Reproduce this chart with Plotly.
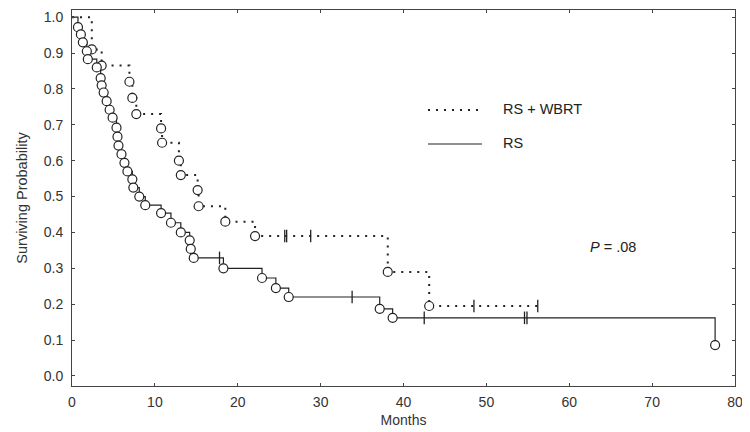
import plotly.graph_objects as go

# ---- data ----
rs_event_months = [0.72, 1.07, 1.31, 1.79, 1.91, 2.99, 3.46, 3.58, 3.82, 4.18, 4.54, 4.90,
                   5.37, 5.49, 5.61, 5.97, 6.33, 6.69, 7.28, 7.40, 8.12, 8.84, 10.75, 11.94,
                   13.13, 14.20, 14.33, 14.69, 18.27, 22.93, 24.60, 26.15, 37.13, 38.69, 77.6]
rs_event_surv = [0.972, 0.952, 0.93, 0.905, 0.883, 0.86, 0.83, 0.81, 0.79, 0.766, 0.742, 0.72,
                 0.692, 0.667, 0.642, 0.618, 0.594, 0.57, 0.548, 0.525, 0.50, 0.476, 0.454, 0.427,
                 0.40, 0.378, 0.354, 0.329, 0.30, 0.273, 0.245, 0.22, 0.187, 0.162, 0.086]
rs_censor_months = [17.8, 33.8, 42.5, 54.6, 54.9]
rs_censor_surv = [0.329, 0.22, 0.162, 0.162, 0.162]

wb_event_months = [2.39, 3.58, 6.93, 7.28, 7.76, 10.75, 10.87, 12.9, 13.13, 15.16, 15.28,
                   18.5, 22.09, 38.1, 43.1]
wb_event_surv = [0.91, 0.865, 0.82, 0.775, 0.73, 0.69, 0.65, 0.60, 0.56, 0.518, 0.473,
                 0.43, 0.39, 0.29, 0.195]
wb_censor_months = [25.67, 25.9, 28.8, 48.5, 56.2]
wb_censor_surv = [0.39, 0.39, 0.39, 0.195, 0.195]

x_ticks = [0, 10, 20, 30, 40, 50, 60, 70, 80]
y_ticks = [0.0, 0.1, 0.2, 0.3, 0.4, 0.5, 0.6, 0.7, 0.8, 0.9, 1.0]

legend_labels = ["RS + WBRT", "RS"]
p_text = "<i>P</i> = .08"

FONT = "Liberation Sans, Arial, sans-serif"
INK = "#222222"
TXT = "#333333"

fig = go.Figure()

# step curves
wb_x = [0] + wb_event_months + [wb_censor_months[-1]]
wb_y = [1.0] + wb_event_surv + [wb_event_surv[-1]]
fig.add_trace(go.Scatter(x=wb_x, y=wb_y, mode="lines", line_shape="hv",
                         line=dict(color=INK, width=2, dash="2px,6px"),
                         showlegend=False, hoverinfo="skip"))
rs_x = [0] + rs_event_months
rs_y = [1.0] + rs_event_surv
fig.add_trace(go.Scatter(x=rs_x, y=rs_y, mode="lines", line_shape="hv",
                         line=dict(color=INK, width=1.2),
                         showlegend=False, hoverinfo="skip"))

# censor marks
for cx, cy in ((wb_censor_months, wb_censor_surv), (rs_censor_months, rs_censor_surv)):
    fig.add_trace(go.Scatter(x=cx, y=cy, mode="markers",
                             marker=dict(symbol="line-ns", size=9,
                                         line=dict(color=INK, width=1.3)),
                             showlegend=False, hoverinfo="skip"))

# event circles
for ex, ey in ((wb_event_months, wb_event_surv), (rs_event_months, rs_event_surv)):
    fig.add_trace(go.Scatter(x=ex, y=ey, mode="markers",
                             marker=dict(symbol="circle", size=9, color="white",
                                         line=dict(color=INK, width=1.2)),
                             showlegend=False, hoverinfo="skip"))

# plot area in screen pixels (page body has an 8px offset)
OFF = 8
FIG_W, FIG_H = 750 - OFF, 432 - OFF
L, R, T, B = 72, 735, 10, 386
W, H = R - L, B - T
def px(xp):
    return (xp - L) / W
def py(yp):
    return 1 - (yp - T) / H

fig.add_shape(type="line", xref="paper", yref="paper", x0=px(428), x1=px(482),
              y0=py(110), y1=py(110), line=dict(color=INK, width=2, dash="2px,6px"))
fig.add_shape(type="line", xref="paper", yref="paper", x0=px(428), x1=px(482),
              y0=py(144), y1=py(144), line=dict(color=INK, width=1.2))
fig.add_annotation(xref="paper", yref="paper", x=px(501), y=py(109), text=legend_labels[0],
                   showarrow=False, xanchor="left", yanchor="middle",
                   font=dict(family=FONT, size=14.5, color=INK))
fig.add_annotation(xref="paper", yref="paper", x=px(501), y=py(143), text=legend_labels[1],
                   showarrow=False, xanchor="left", yanchor="middle",
                   font=dict(family=FONT, size=14.5, color=INK))
fig.add_annotation(xref="paper", yref="paper", x=px(613), y=py(247), text=p_text,
                   showarrow=False, xanchor="center", yanchor="middle",
                   font=dict(family=FONT, size=14.5, color=INK))

axis_common = dict(showline=True, linecolor="#444444", linewidth=1, mirror="ticks",
                   ticks="inside", ticklen=3, tickcolor="#444444", showgrid=False,
                   zeroline=False, automargin=False, ticklabeloverflow="allow",
                   tickfont=dict(family=FONT, size=14, color=TXT))

fig.update_xaxes(range=[0, 80], tickvals=x_ticks, ticktext=[str(v) for v in x_ticks],
                 ticklabelstandoff=3,
                 title=dict(text="Months", font=dict(family=FONT, size=14, color=TXT),
                            standoff=6),
                 **axis_common)
fig.update_yaxes(range=[-0.028, 1.02], tickvals=y_ticks,
                 ticktext=[f"{v:.1f}" for v in y_ticks],
                 ticklabelstandoff=5,
                 title=dict(text="Surviving Probability",
                            font=dict(family=FONT, size=14.5, color=TXT), standoff=12),
                 **axis_common)

fig.update_layout(width=FIG_W, height=FIG_H,
                  margin=dict(l=L - OFF, r=FIG_W - (R - OFF), t=T - OFF,
                              b=FIG_H - (B - OFF), autoexpand=False),
                  plot_bgcolor="white", paper_bgcolor="white", showlegend=False)

fig.write_html("out.html")
